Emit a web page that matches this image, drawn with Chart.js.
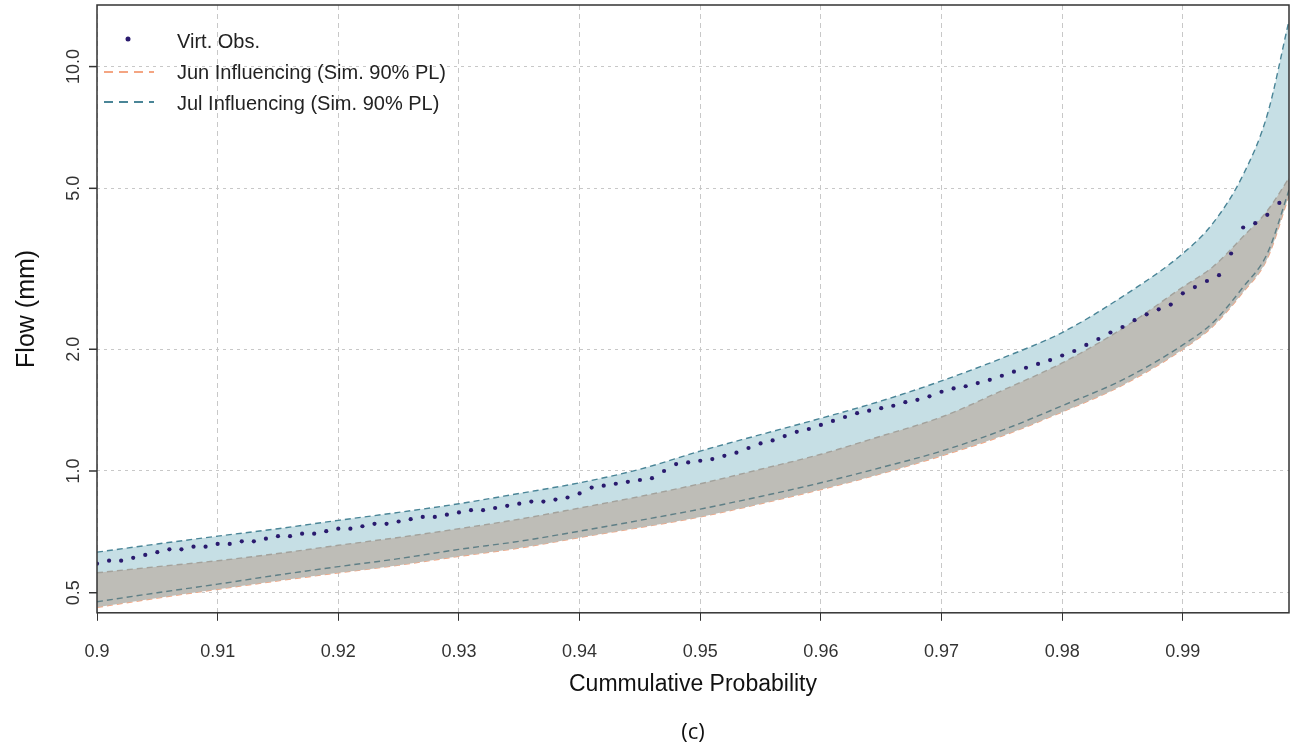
<!DOCTYPE html>
<html><head><meta charset="utf-8">
<script src="https://cdn.jsdelivr.net/npm/chart.js@4"></script>
<style>html,body{margin:0;padding:0;background:#fff}#w{width:1293px;height:752px;position:relative}</style>
</head><body><div id="w"><canvas id="c"></canvas></div>
<script>
const bandX = [0.9,0.905,0.91,0.915,0.92,0.925,0.93,0.935,0.94,0.945,0.95,0.955,0.96,0.965,0.97,0.975,0.98,0.985,0.99,0.9925,0.995,0.997,0.9988];
const julUpper = [0.63,0.66,0.69,0.72,0.755,0.79,0.83,0.88,0.935,1.01,1.12,1.23,1.35,1.49,1.67,1.9,2.2,2.7,3.45,4.1,5.4,7.6,13.0];
const julLower = [0.475,0.5,0.525,0.553,0.58,0.607,0.64,0.67,0.71,0.755,0.805,0.865,0.935,1.02,1.12,1.26,1.45,1.68,2.05,2.33,2.85,3.45,4.95];
const junUpper = [0.56,0.58,0.60,0.625,0.655,0.685,0.72,0.76,0.81,0.865,0.93,1.01,1.1,1.22,1.36,1.58,1.85,2.25,2.85,3.2,3.8,4.4,5.3];
const junLower = [0.46,0.485,0.51,0.535,0.56,0.585,0.615,0.645,0.685,0.725,0.77,0.83,0.9,0.985,1.09,1.22,1.40,1.63,2.0,2.28,2.77,3.35,4.8];
const obsX0 = 0.9, obsStep = 0.001;
const obs = [
.59,.60,.60,.61,.62,.63,.64,.64,.65,.65,
.66,.66,.67,.67,.68,.69,.69,.70,.70,.71,
.72,.72,.73,.74,.74,.75,.76,.77,.77,.78,
.79,.80,.80,.81,.82,.83,.84,.84,.85,.86,
.88,.91,.92,.93,.94,.95,.96,1.00,1.04,1.05,
1.06,1.07,1.09,1.11,1.14,1.17,1.19,1.22,1.25,1.27,
1.30,1.33,1.36,1.39,1.41,1.43,1.45,1.48,1.50,1.53,
1.57,1.60,1.62,1.65,1.68,1.72,1.76,1.80,1.84,1.88,
1.93,1.98,2.05,2.12,2.20,2.27,2.36,2.44,2.51,2.58,
2.75,2.85,2.95,3.05,3.45,4.0,4.1,4.3,4.6,5.2];
const xTicks = [0.9,0.91,0.92,0.93,0.94,0.95,0.96,0.97,0.98,0.99];
const yTicks = [0.5,1,2,5,10];
const yTickLabels = ['0.5','1.0','2.0','5.0','10.0'];

const pts = (xs, ys) => ys.map((y,i)=>({x:xs[i], y}));
const obsPts = obs.map((y,i)=>({x:+(obsX0+i*obsStep).toFixed(4), y}));
const ORANGE='#f4a582', BLUE='#4a8597';

const deco = {
  id:'deco',
  afterDraw(ch){
    const {ctx, chartArea:a, scales:{y}} = ch;
    ctx.save();
    ctx.strokeStyle='#333'; ctx.lineWidth=1.5; ctx.setLineDash([]);
    ctx.strokeRect(a.left,a.top,a.right-a.left,a.bottom-a.top);
    ctx.fillStyle='#333'; ctx.font='18px "Liberation Sans", Arial';
    ctx.textAlign='center'; ctx.textBaseline='bottom';
    yTicks.forEach((v,i)=>{
      const py=y.getPixelForValue(v);
      ctx.save(); ctx.translate(a.left-14,py); ctx.rotate(-Math.PI/2);
      ctx.fillText(yTickLabels[i],0,0); ctx.restore();
      ctx.beginPath(); ctx.moveTo(a.left-8,py); ctx.lineTo(a.left,py); ctx.stroke();
    });
    ctx.save(); ctx.translate(40,(a.top+a.bottom)/2); ctx.rotate(-Math.PI/2);
    ctx.font='25px "Liberation Sans", Arial'; ctx.fillStyle='#111'; ctx.fillText('Flow (mm)',0,0); ctx.restore();
    ctx.textAlign='left'; ctx.textBaseline='middle'; ctx.font='20px "Liberation Sans", Arial';
    const lx=a.left+7, tx=a.left+80;
    ctx.fillStyle='#2a1a6e'; ctx.beginPath(); ctx.arc(a.left+31,39,2.5,0,Math.PI*2); ctx.fill();
    ctx.fillStyle='#222';
    ctx.fillText('Virt. Obs.',tx,42);
    ctx.fillText('Jun Influencing (Sim. 90% PL)',tx,73);
    ctx.fillText('Jul Influencing (Sim. 90% PL)',tx,104);
    ctx.lineWidth=2; ctx.setLineDash([9,6]);
    ctx.strokeStyle=ORANGE; ctx.beginPath(); ctx.moveTo(lx,72); ctx.lineTo(lx+50,72); ctx.stroke();
    ctx.strokeStyle=BLUE; ctx.beginPath(); ctx.moveTo(lx,102); ctx.lineTo(lx+50,102); ctx.stroke();
    ctx.setLineDash([]);
    ctx.textAlign='center'; ctx.font='22px "Open Sans", sans-serif'; ctx.fillStyle='#111';
    ctx.fillText('(c)',(a.left+a.right)/2,733);
    ctx.restore();
  }
};

const line = (data,color,extra) => Object.assign({data, borderColor:color, borderWidth:1.4, borderDash:[6,4], pointRadius:0, cubicInterpolationMode:'monotone', fill:false}, extra);

new Chart(document.getElementById('c'), {
  type:'line',
  data:{datasets:[
    {label:'Virt. Obs.', data:obsPts, showLine:false, pointRadius:2.1, pointBackgroundColor:'#2a1a6e', pointBorderWidth:0, order:0},
    line(pts(bandX,julLower),'#5f7f86',{order:1}),
    line(pts(bandX,junUpper),'#a3a29c',{fill:{target:3}, backgroundColor:'#bebdb7', order:2}),
    line(pts(bandX,junLower),ORANGE,{order:2}),
    line(pts(bandX,julUpper),BLUE,{fill:{target:1}, backgroundColor:'#c6dfe5', order:3}),
  ]},
  options:{
    responsive:true, maintainAspectRatio:false, animation:false,
    layout:{padding:{left:97,right:3,top:5,bottom:54}},
    plugins:{legend:{display:false}, tooltip:{enabled:false}},
    scales:{
      x:{type:'linear', min:0.9, max:0.9988,
        afterBuildTicks:s=>{s.ticks=xTicks.map(v=>({value:v}));},
        ticks:{callback:v=>String(+v.toFixed(2)), font:{size:18, family:'"Liberation Sans", Arial'}, color:'#333', padding:20, maxRotation:0},
        grid:{color:'#c8c8c8', tickLength:8, tickColor:'#333'}, border:{display:false, dash:[5,4]},
        title:{display:true, text:'Cummulative Probability', font:{size:23, family:'"Liberation Sans", Arial'}, color:'#111', padding:{top:-12,bottom:0}}},
      y:{type:'logarithmic', min:0.446, max:14.2,
        afterBuildTicks:s=>{s.ticks=yTicks.map(v=>({value:v}));},
        ticks:{display:false},
        grid:{color:'#c8c8c8', drawTicks:false}, border:{display:false, dash:[3,4]}}
    }
  },
  plugins:[deco]
});
</script></body></html>
